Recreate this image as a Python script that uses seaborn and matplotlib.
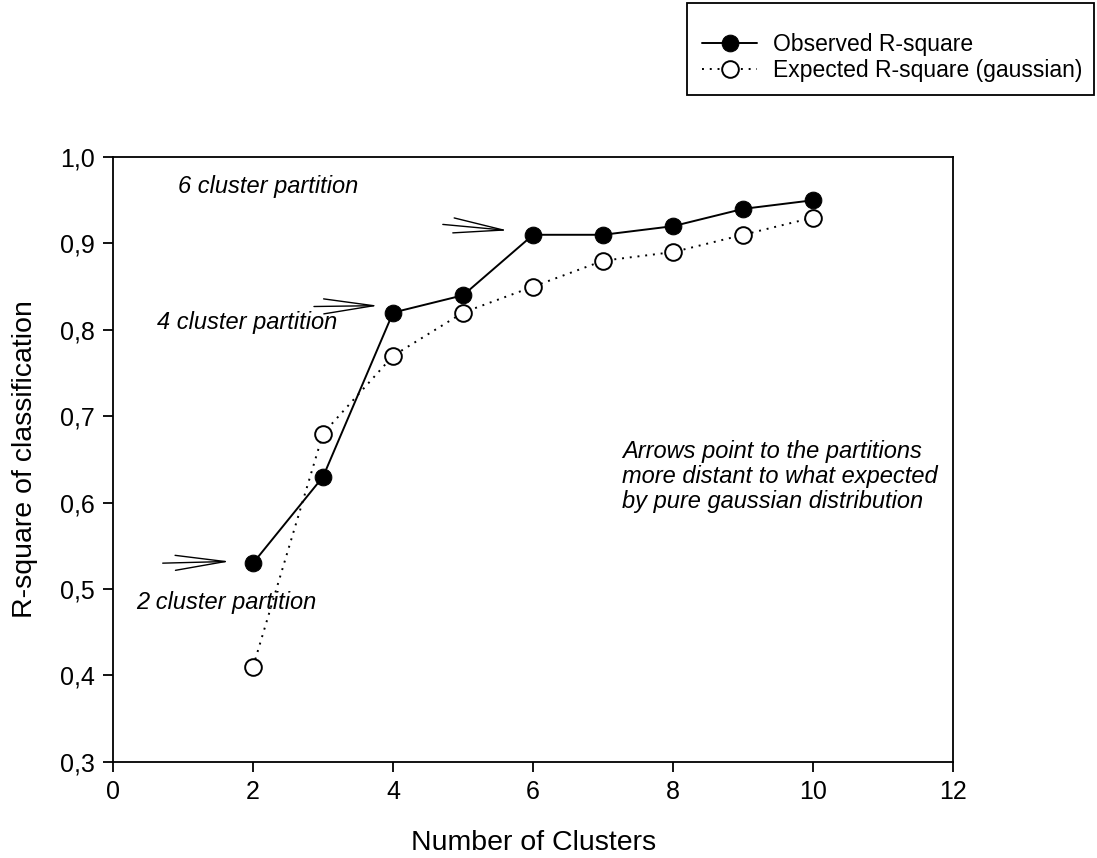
import matplotlib
matplotlib.use("Agg")
import matplotlib.pyplot as plt
import seaborn as sns
import pandas as pd
from matplotlib.ticker import FuncFormatter
from matplotlib.patches import Rectangle

clusters = [2, 3, 4, 5, 6, 7, 8, 9, 10]
observed = [0.53, 0.63, 0.82, 0.84, 0.91, 0.91, 0.92, 0.94, 0.95]
expected = [0.41, 0.68, 0.77, 0.82, 0.85, 0.88, 0.89, 0.91, 0.93]
x_ticks = [0, 2, 4, 6, 8, 10, 12]
y_ticks = [0.3, 0.4, 0.5, 0.6, 0.7, 0.8, 0.9, 1.0]

sns.set_theme(style="ticks")
plt.rcParams['font.family'] = ['Liberation Sans', 'DejaVu Sans']
plt.rcParams['text.color'] = 'black'
plt.rcParams['axes.labelcolor'] = 'black'

W, H = 1097, 858
fig = plt.figure(figsize=(W / 100, H / 100), dpi=100)
ax = fig.add_axes([0.103, 0.112, 0.766, 0.705])

df_obs = pd.DataFrame({"x": clusters, "y": observed})
df_exp = pd.DataFrame({"x": clusters, "y": expected})

sns.lineplot(data=df_exp, x="x", y="y", ax=ax, color="black", linestyle=(0, (1, 3)),
             linewidth=1.4, marker="o", markersize=12, markerfacecolor="white",
             markeredgecolor="black", markeredgewidth=1.4, label="Expected R-square (gaussian)")
sns.lineplot(data=df_obs, x="x", y="y", ax=ax, color="black", linestyle="-",
             linewidth=1.4, marker="o", markersize=12, markerfacecolor="black",
             markeredgecolor="black", label="Observed R-square")

ax.set_xlim(0, 12)
ax.set_ylim(0.3, 1.0)
ax.set_xticks(x_ticks)
ax.set_yticks(y_ticks)
ax.xaxis.set_major_formatter(FuncFormatter(lambda v, p: f"{v:g}"))
ax.yaxis.set_major_formatter(FuncFormatter(lambda v, p: f"{v:.1f}".replace(".", ",")))
ax.tick_params(axis="both", direction="out", length=7, width=1.3, labelsize=18,
               colors="black", pad=6)
for s in ax.spines.values():
    s.set_linewidth(1.3)
    s.set_color("black")
ax.set_xlabel("Number of Clusters", fontsize=20.5, labelpad=19)
ax.set_ylabel("R-square of classification", fontsize=20.5, labelpad=16)

# legend (frame drawn separately)
handles, labels = ax.get_legend_handles_labels()
order = [1, 0]
leg = fig.legend([handles[i] for i in order], [labels[i] for i in order],
                 loc="center left", bbox_to_anchor=(702 / W, 1 - 57.5 / H), fontsize=16.5,
                 frameon=False, handlelength=2.4, borderpad=0, borderaxespad=0,
                 labelspacing=0.1, handletextpad=0.7)
ax.get_legend().remove()
fig.patches.append(Rectangle((687 / W, 1 - 95 / H), (1094 - 687) / W, 92 / H,
                             transform=fig.transFigure, fill=False, edgecolor="black",
                             linewidth=1.3))

# annotations
arrow_kw = dict(arrowstyle="->,head_length=3.0,head_width=0.45", color="black", lw=1.0,
                shrinkA=0, shrinkB=0)
ax.annotate("", xy=(1.67, 0.532), xytext=(0.71, 0.530), arrowprops=arrow_kw)
ax.annotate("", xy=(3.79, 0.828), xytext=(2.87, 0.827), arrowprops=arrow_kw)
ax.annotate("", xy=(5.64, 0.915), xytext=(4.71, 0.922), arrowprops=arrow_kw)

ax.text(0.93, 0.966, "6 cluster partition", fontsize=17, style="italic", va="center", ha="left")
ax.text(0.63, 0.808, "4 cluster partition", fontsize=17, style="italic", va="center", ha="left")
ax.text(0.33, 0.484, "2 cluster partition", fontsize=17, style="italic", va="center", ha="left")
ax.text(7.27, 0.630, "Arrows point to the partitions\nmore distant to what expected\nby pure gaussian distribution",
        fontsize=17, style="italic", va="center", ha="left", linespacing=1.1)

fig.savefig("out.png", dpi=100)
